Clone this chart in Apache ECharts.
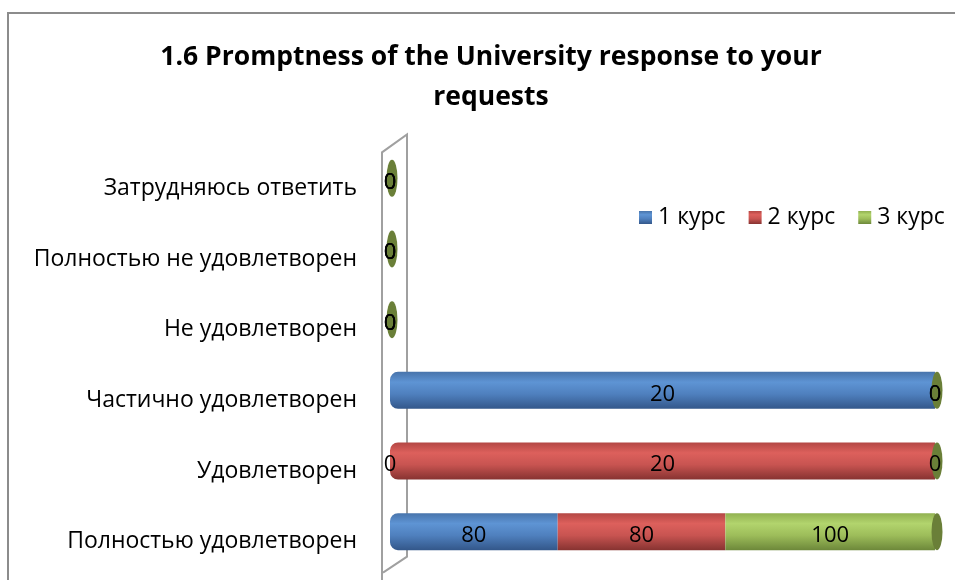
<!DOCTYPE html>
<html><head><meta charset="utf-8">
<script src="https://cdn.jsdelivr.net/npm/echarts@6/dist/echarts.min.js"></script>
<style>html,body{margin:0;padding:0;background:#fff}#c{width:955px;height:580px}</style>
</head><body><div id="c"></div>
<script>
const titleText = '1.6 Promptness of the University response to your\nrequests';
const categories = ['Полностью удовлетворен','Удовлетворен','Частично удовлетворен','Не удовлетворен','Полностью не удовлетворен','Затрудняюсь ответить'];
const seriesNames = ['1 курс','2 курс','3 курс'];
const kurs1 = [80, 0, 20, 0, 0, 0];
const kurs2 = [80, 20, 0, 0, 0, 0];
const kurs3 = [100, 0, 0, 0, 0, 0];

const raw = [kurs1, kurs2, kurs3];
const totals = categories.map((c,i)=>raw.reduce((s,a)=>s+a[i],0));
const pct = raw.map(a=>a.map((v,i)=>totals[i]>0 ? v/totals[i]*100 : 0));

const FONT = '"Open Sans", "Noto Sans", sans-serif';
const grads = [
  ['#4874ab','#5e94d4','#4f80be','#33578a'],
  ['#b34744','#dd605c','#c85451','#873331'],
  ['#91b151','#b2d46d','#9dbd5a','#6d883a']
];
function grad(g){
  return {type:'linear',x:0,y:0,x2:0,y2:1,colorStops:[
    {offset:0,color:g[0]},{offset:0.28,color:g[1]},{offset:0.6,color:g[2]},{offset:1,color:g[3]}]};
}
const legendColors = ['#4f81bd','#c0504d','#9bbb59'];

const series = [];
raw.forEach((arr,si)=>{
  series.push({
    name: seriesNames[si], type:'bar', stack:'all', barWidth:37, barGap:'-100%', z:2,
    color: legendColors[si],
    itemStyle:{color:grad(grads[si])},
    data: pct[si].map((v,i)=>{
      const first = raw.slice(0,si).every(a=>a[i]===0);
      return {value:v, itemStyle:{borderRadius: first ? [8,0,0,8] : 0}};
    }),
    label:{show:false}
  });
});
series.push({
  name:'cap', type:'scatter', z:3, symbol:'circle', symbolSize:[11,37], symbolOffset:[2,0],
  itemStyle:{color:'#6a7f38', opacity:1}, silent:true,
  data: totals.map((t,i)=>[t>0?100:0, i])
});
raw.forEach((arr,si)=>{
  series.push({
    name: 'lbl'+si, type:'bar', stack:'lbl', barWidth:37, barGap:'-100%', z:4, silent:true,
    itemStyle:{color:'rgba(0,0,0,0)'},
    data: pct[si].map((v,i)=>({value:v, label:{formatter:String(arr[i])}})),
    label:{show:true, position:'inside', offset:[0,4], color:'#000', fontSize:22, fontFamily:FONT}
  });
});

const chart = echarts.init(document.getElementById('c'));
chart.setOption({
  animation:false,
  title:{text:titleText, left:486, top:32, textAlign:'center',
    textStyle:{fontFamily:FONT, fontWeight:'bold', fontSize:26.5, color:'#000', lineHeight:40}},
  legend:{data:seriesNames, left:634, top:201, itemWidth:13, itemHeight:13, itemGap:23, icon:'rect',
    textStyle:{fontFamily:FONT, fontSize:23, color:'#000', padding:[0,0,0,1]}},
  grid:{left:390, right:20, top:143, bottom:13},
  xAxis:{type:'value', min:0, max:100, show:false},
  yAxis:{type:'category', data:categories, axisLine:{show:false}, axisTick:{show:false},
    axisLabel:{fontFamily:FONT, fontSize:23, color:'#000', margin:33, verticalAlign:'top', lineHeight:20}},
  series: series
});

const x0 = chart.convertToPixel({gridIndex:0}, [0, 0])[0];
const yTop = chart.convertToPixel({gridIndex:0}, [0, categories.length-1])[1] - 35;
const yBot = chart.convertToPixel({gridIndex:0}, [0, 0])[1] + 35;
chart.setOption({graphic:[
  {type:'rect', shape:{x:8,y:13,width:1200,height:1200}, style:{fill:null, stroke:'#8c8c8c', lineWidth:2}, z:0, silent:true},
  {type:'polyline', shape:{points:[[x0-8,yBot+14],[x0-8,yTop+9],[x0+17,yTop-9],[x0+17,yBot-10],[x0-7,yBot+6]]},
   style:{fill:null, stroke:'#a0a0a0', lineWidth:2}, z:1, silent:true}
]});
</script></body></html>
